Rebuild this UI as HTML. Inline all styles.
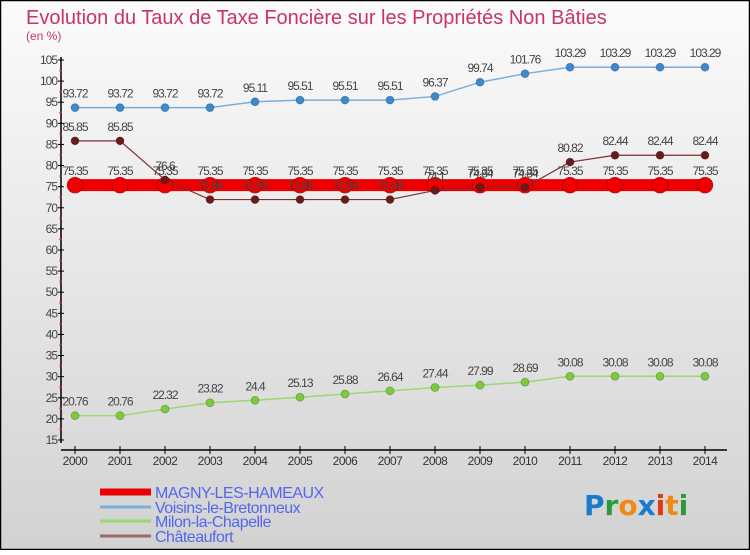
<!DOCTYPE html>
<html><head><meta charset="utf-8"><style>
html,body{margin:0;padding:0}
body{width:750px;height:550px;overflow:hidden;font-family:"Liberation Sans",sans-serif}
</style></head><body>
<svg id="chart" width="750" height="550" xmlns="http://www.w3.org/2000/svg">
<defs><linearGradient id="bg" x1="0" y1="0" x2="0" y2="1"><stop offset="0" stop-color="#fbfbfb"/><stop offset="1" stop-color="#d2d2d2"/></linearGradient></defs>
<rect x="0.5" y="0.5" width="749" height="549" fill="url(#bg)" stroke="#000" stroke-width="1.5"/>
<text x="26" y="24" font-size="20" fill="#c8365f">Evolution du Taux de Taxe Foncière sur les Propriétés Non Bâties</text>
<text x="26" y="40" font-size="12" fill="#c8365f">(en %)</text>
<g id="axes"></g>
<g id="series"></g>
<g id="legend"></g>
<text x="584" y="515" font-size="28" font-weight="bold" font-family="DejaVu Sans, sans-serif"><tspan fill="#1a7ad0">P</tspan><tspan fill="#2a9a3a">r</tspan><tspan fill="#f08a10">o</tspan><tspan fill="#1a7ad0">x</tspan><tspan fill="#e03a10">i</tspan><tspan fill="#f08a10">t</tspan><tspan fill="#2a9a3a">i</tspan></text>
</svg>
<script>
const years = [2000,2001,2002,2003,2004,2005,2006,2007,2008,2009,2010,2011,2012,2013,2014];
const magny = [75.35,75.35,75.35,75.35,75.35,75.35,75.35,75.35,75.35,75.35,75.35,75.35,75.35,75.35,75.35];
const voisins = [93.72,93.72,93.72,93.72,95.11,95.51,95.51,95.51,96.37,99.74,101.76,103.29,103.29,103.29,103.29];
const milon = [20.76,20.76,22.32,23.82,24.4,25.13,25.88,26.64,27.44,27.99,28.69,30.08,30.08,30.08,30.08];
const chateau = [85.85,85.85,76.6,71.94,71.94,71.94,71.94,71.94,74.1,74.84,74.84,80.82,82.44,82.44,82.44];
const yTicks = [15,20,25,30,35,40,45,50,55,60,65,70,75,80,85,90,95,100,105];
const NS="http://www.w3.org/2000/svg";
const X = i => 75 + i*45;
const Y = v => 60 + (105 - v)*4.222;
function el(tag, attrs, parent, txt){const e=document.createElementNS(NS,tag);for(const k in attrs)e.setAttribute(k,attrs[k]);if(txt!==undefined)e.textContent=txt;parent.appendChild(e);return e;}
const axes=document.getElementById('axes');
let a=el('line',{x1:61,y1:57,x2:61,y2:443,stroke:'#000','stroke-width':1.5},axes);


a=el('line',{x1:61,y1:450,x2:727,y2:450,stroke:'#000','stroke-width':1.5},axes);


yTicks.forEach(t=>{
  el('line',{x1:58,y1:Y(t),x2:64,y2:Y(t),stroke:'#000'},axes);
  if(t<105) el('line',{x1:59,y1:Y(t+2.5),x2:62,y2:Y(t+2.5),stroke:'#e33'},axes);
  const l=el('text',{x:57,y:Y(t)+4,'font-size':12,'text-anchor':'end',fill:'#444','letter-spacing':'-1'},axes,String(t));
  
  
});
years.forEach((yr,i)=>{
  el('line',{x1:X(i),y1:446,x2:X(i),y2:454,stroke:'#000'},axes);
  const l=el('text',{x:X(i),y:465,'font-size':12,'text-anchor':'middle',fill:'#333','letter-spacing':'-0.5'},axes,String(yr));
  
  
});
const ser=document.getElementById('series');
function draw(name,vals,color,lw,r,fill){
  const g=el('g',{},ser);
  
  
  const ln=el('polyline',{points:vals.map((v,i)=>X(i)+','+Y(v)).join(' '),fill:'none',stroke:color,'stroke-width':lw},g);
  
  
  vals.forEach((v,i)=>{
    const c=el('circle',{cx:X(i),cy:Y(v),r:r,fill:fill,stroke:'rgba(0,0,0,0.3)','stroke-width':0.7},g);
    
    
    const t=el('text',{x:X(i),y:Y(v)-10,'font-size':12,'text-anchor':'middle',fill:'#444','letter-spacing':'-1'},g,String(v));
    
    
  });
}
draw('voisins',voisins,'#7aaedb',1.5,4,'#3a8ad0');
draw('milon',milon,'#9ad870',1.5,4,'#7acc3a');
draw('magny',magny,'#ee0000',12,8,'#ee0000');
draw('chateaufort',chateau,'#7a3030',1.2,4,'#6a1a1a');
const leg=document.getElementById('legend');
const items=[['MAGNY-LES-HAMEAUX','#ee0000',7,495],['Voisins-le-Bretonneux','#7aaedb',3,510],['Milon-la-Chapelle','#9ad870',3,524],['Châteaufort','#9a6a6a',3,539]];
items.forEach(it=>{
  const g=el('g',{},leg);
  
  
  el('line',{x1:100,y1:it[3]-3,x2:151,y2:it[3]-3,stroke:it[1],'stroke-width':it[2]},g);
  el('text',{x:155,y:it[3]+3,'font-size':16,fill:'#5566ee','letter-spacing':'-0.5'},g,it[0]);
});
</script>
</body></html>
